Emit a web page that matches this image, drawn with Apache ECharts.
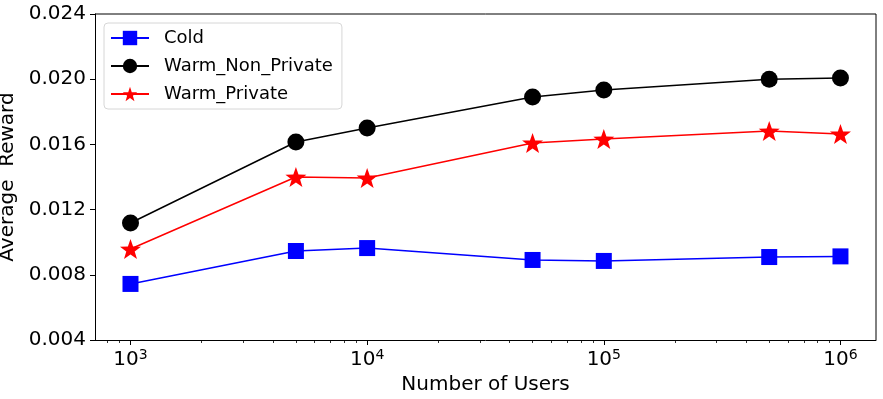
<!DOCTYPE html>
<html>
<head>
<meta charset="utf-8">
<script src="https://cdn.jsdelivr.net/npm/echarts@6/dist/echarts.min.js"></script>
<style>
  html, body { margin: 0; padding: 0; background: #fff; }
  #chart { width: 883px; height: 399px; }
</style>
</head>
<body>
<div id="chart"></div>
<script>
  // number of users (x is drawn on a log10 scale)
  var users = [1e3, 5e3, 1e4, 5e4, 1e5, 5e5, 1e6]
  var cold = [0.00744, 0.00946, 0.00964, 0.00891, 0.00885, 0.00909, 0.00913]
  var warmNonPrivate = [0.01118, 0.01615, 0.01701, 0.01891, 0.01934, 0.0200, 0.02007]
  var warmPrivate = [0.00958, 0.01400, 0.01394, 0.01609, 0.01633, 0.01682, 0.01664]
  var xMajor = [1e3, 1e4, 1e5, 1e6]
  var xMinor = [800, 900, 2e3, 3e3, 4e3, 5e3, 6e3, 7e3, 8e3, 9e3,
    2e4, 3e4, 4e4, 5e4, 6e4, 7e4, 8e4, 9e4,
    2e5, 3e5, 4e5, 5e5, 6e5, 7e5, 8e5, 9e5]

  var xMin = Math.log10(708), xMax = Math.log10(1.413e6)
  var font = 'DejaVu Sans'

  function pairs(ys) {
    return users.map(function (u, i) { return [Math.log10(u), ys[i]] })
  }

  var chart = echarts.init(document.getElementById('chart'))
  chart.setOption({
    animation: false,
    textStyle: { fontFamily: font },
    grid: { left: 95, right: 7, top: 14, bottom: 59, containLabel: false, outerBoundsMode: 'none' },
    legend: {
      data: ['Cold', 'Warm_Non_Private', 'Warm_Private'],
      orient: 'vertical',
      left: 104, top: 23,
      padding: [6, 9, 6, 6],
      itemGap: 10,
      itemWidth: 38, itemHeight: 18,
      borderColor: '#d6d6d6', borderWidth: 1, borderRadius: 4,
      backgroundColor: 'rgba(255,255,255,0.8)',
      textStyle: { fontSize: 18, color: '#000', fontFamily: font, padding: [0, 0, 0, 10] }
    },
    xAxis: [
      {
        type: 'value', min: xMin, max: xMax,
        name: 'Number of Users', nameLocation: 'middle', nameGap: 32,
        nameTextStyle: { fontSize: 20, color: '#000' },
        axisLine: { show: true, onZero: false, lineStyle: { color: '#000', width: 1 } },
        axisTick: { show: true, length: 5, lineStyle: { color: '#000' },
          customValues: xMajor.map(Math.log10) },
        axisLabel: {
          color: '#000', margin: 8,
          customValues: xMajor.map(Math.log10),
          formatter: function (v) {
            return '{b|10}{e|' + Math.round(v) + '}'
          },
          rich: {
            b: { fontSize: 20, color: '#000', fontFamily: font },
            e: { fontSize: 14, color: '#000', fontFamily: font, padding: [0, 0, 10, 0] }
          }
        },
        splitLine: { show: false }
      },
      {
        // minor ticks of the log axis
        type: 'value', min: xMin, max: xMax, position: 'bottom',
        axisLine: { show: false, onZero: false },
        axisTick: { show: true, length: 3, lineStyle: { color: '#000', width: 0.8 },
          customValues: xMinor.map(Math.log10) },
        axisLabel: { show: false },
        splitLine: { show: false }
      }
    ],
    yAxis: {
      type: 'value', min: 0.004, max: 0.024, interval: 0.004,
      name: 'Average  Reward', nameLocation: 'middle', nameGap: 63, nameRotate: 90,
      nameTextStyle: { fontSize: 20, color: '#000' },
      axisLine: { show: true, lineStyle: { color: '#000' } },
      axisTick: { show: true, length: 5, lineStyle: { color: '#000' } },
      axisLabel: {
        fontSize: 20, color: '#000', margin: 9,
        formatter: function (v) { return v.toFixed(3) }
      },
      splitLine: { show: false }
    },
    series: [
      {
        name: 'Cold', type: 'line', data: pairs(cold),
        symbol: 'rect', symbolSize: 16,
        lineStyle: { color: '#0000ff', width: 1.5 },
        itemStyle: { color: '#0000ff' }
      },
      {
        name: 'Warm_Non_Private', type: 'line', data: pairs(warmNonPrivate),
        symbol: 'circle', symbolSize: 17,
        lineStyle: { color: '#000', width: 1.5 },
        itemStyle: { color: '#000' }
      },
      {
        name: 'Warm_Private', type: 'line', data: pairs(warmPrivate),
        symbol: 'path://M0,-10 L2.35,-3.24 L9.51,-3.09 L3.8,1.24 L5.88,8.09 L0,4 L-5.88,8.09 L-3.8,1.24 L-9.51,-3.09 L-2.35,-3.24 Z',
        symbolSize: 21, symbolKeepAspect: true,
        lineStyle: { color: '#ff0000', width: 1.5 },
        itemStyle: { color: '#ff0000' }
      }
    ],
    graphic: [
      // top and right frame lines
      { type: 'line', shape: { x1: 95, y1: 14, x2: 876, y2: 14 }, style: { stroke: '#000', lineWidth: 1 } },
      { type: 'line', shape: { x1: 876, y1: 14, x2: 876, y2: 340 }, style: { stroke: '#000', lineWidth: 1 } }
    ]
  })
</script>
</body>
</html>
